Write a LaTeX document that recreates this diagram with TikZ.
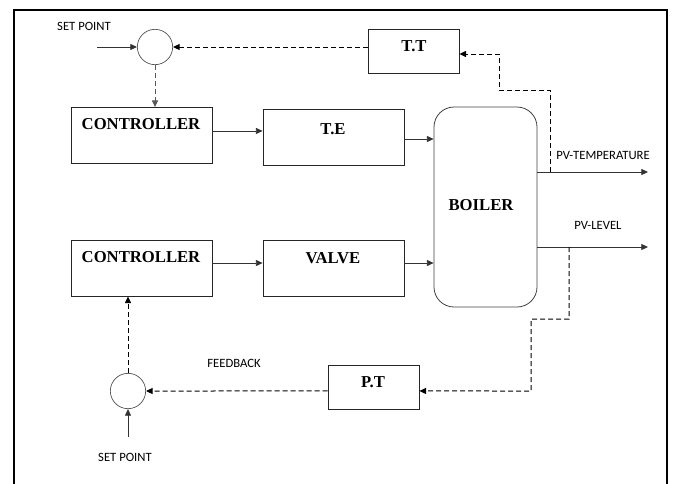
\documentclass[tikz,border=0pt]{standalone}
\usepackage{fontspec}
\setmainfont{Liberation Serif}
\newfontfamily\labfont{Carlito}
\usetikzlibrary{arrows.meta}
\begin{document}
\begin{tikzpicture}[x=0.75pt,y=-0.75pt,
  blk/.style={draw=black!85,line width=0.6pt,minimum width=105.75pt,minimum height=42pt,inner sep=0pt},
  sblk/.style={draw=black!85,line width=0.6pt,minimum width=68.25pt,minimum height=33pt,inner sep=0pt},
  sumc/.style={draw=black!70,line width=0.5pt,circle,minimum size=26.5pt,inner sep=0pt},
  btext/.style={font=\bfseries\fontsize{12.5}{14}\selectfont,inner sep=0pt},
  ltext/.style={font=\labfont\fontsize{9.5}{11}\selectfont,inner sep=0pt},
  sol/.style={line width=0.6pt,draw=black!80,-{Triangle[length=5pt,width=4.5pt]}},
  dsh/.style={line width=0.75pt,dash pattern=on 3.75pt off 2.25pt,-{Triangle[length=5pt,width=4.5pt]}}]
\useasboundingbox (0,0) rectangle (673,483);
% frame
\draw[line width=2pt] (14,490) -- (14,10) -- (667,10) -- (667,490);
% blocks
\node[blk] (ctrl1) at (141.5,135.5) {};
\node[blk] (te) at (333.5,137) {};
\node[sblk] (tt) at (413.5,51) {};
\node[draw=black!75,line width=0.6pt,rounded corners=15pt,minimum width=77.25pt,minimum height=150pt,inner sep=0pt] (boiler) at (485.5,207) {};
\node[blk] (ctrl2) at (141.5,268) {};
\node[blk] (valve) at (333.5,268) {};
\node[sblk] (pt) at (373.5,387.5) {};
\node[sumc] (c1) at (155,47) {};
\node[sumc] (c2) at (128,391) {};
% block texts
\node[btext] (t1) at (141,124) {CONTROLLER};
\node[btext] (t2) at (333,129) {T.E};
\node[btext] (t3) at (414,46) {T.T};
\node[btext] (t4) at (481,205) {BOILER};
\node[btext] (t5) at (141,257) {CONTROLLER};
\node[btext] (t6) at (333,258) {VALVE};
\node[btext] (t7) at (373,382) {P.T};
% labels
\node[ltext] (l1) at (84,26) {SET POINT};
\node[ltext] (l2) at (234,363) {FEEDBACK};
\node[ltext] (l3) at (125,457) {SET POINT};
\node[ltext] (l4) at (603,155) {PV-TEMPERATURE};
\node[ltext] (l5) at (598,225) {PV-LEVEL};
% coordinates
\coordinate (sp1) at (97,47);
\coordinate (sp2) at (128,437);
\coordinate (pvT) at (648,172);
\coordinate (pvL) at (648,247);
\coordinate (tap1) at (550,172);
\coordinate (tap2) at (569,247);
% solid connectors
\draw[sol] (sp1) -- (c1.west);
\draw[sol] ([yshift=3.4pt]ctrl1.east) -- ([yshift=3.4pt]ctrl1.east -| te.west);
\draw[sol] ([yshift=-1.5pt]te.east) -- ([yshift=-1.5pt]te.east -| boiler.west);
\draw[sol] (boiler.east |- pvT) -- (pvT);
\draw[sol] ([yshift=3.75pt]ctrl2.east) -- ([yshift=3.75pt]valve.west);
\draw[sol] ([yshift=3.75pt]valve.east) -- ([yshift=3.75pt]valve.east -| boiler.west);
\draw[sol] (boiler.east |- pvL) -- (pvL);
\draw[sol] (sp2) -- (c2.south);
% dashed connectors
\draw[dsh] (tt.west |- c1.east) -- (c1.east);
\draw[dsh,draw=black!65] (c1.south) -- (c1.south |- ctrl1.north);
\draw[dsh] (tap1) -- (550,90) -- (499,90) -- (499,54) -- ([yshift=-2.25pt]tt.east);
\draw[dsh] (tap2) -- (569,319) -- (531,319) -- (531,391) -- ([yshift=-2.6pt]pt.east);
\draw[dsh] ([yshift=-2.6pt]pt.west) -- (c2.east);
\draw[dsh] (c2.north) -- (c2.north |- ctrl2.south);
\end{tikzpicture}
\end{document}
